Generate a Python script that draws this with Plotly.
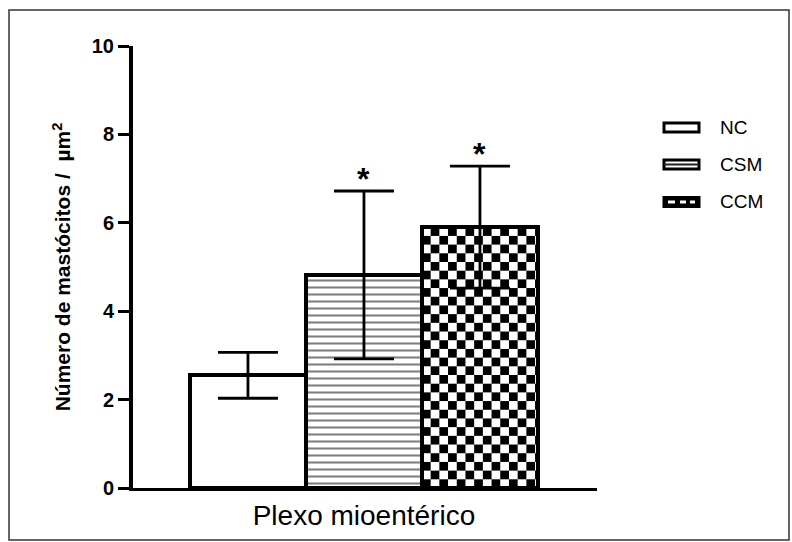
import base64
import plotly.graph_objects as go

# ---------------- data ----------------
groups = ["NC", "CSM", "CCM"]
means = [2.55, 4.82, 5.90]
sems = [0.52, 1.90, 1.38]
sig = ["", "*", "*"]
category_label = "Plexo mioentérico"
y_ticks = [0, 2, 4, 6, 8, 10]
y_title = "Número de mastócitos /  µm<sup>2</sup>"

# ---------------- layout constants ----------------
W, H = 792, 542
L, R, T, B = 133, 597, 46, 488  # plot area in px
FONT = "Liberation Sans, Arial, sans-serif"


def pxx(p):
    return (p - L) / (R - L)


def pxy(p):
    return (B - p) / (B - T)


xpos = list(range(len(groups)))

fig = go.Figure()

styles = {
    "NC": dict(color="white"),
    "CSM": dict(color="white", pattern=dict(shape="-", fgcolor="#000000", bgcolor="white",
                                            size=7, solidity=0.3)),
    "CCM": dict(color="rgba(0,0,0,0)"),
}

for i, g in enumerate(groups):
    m = dict(styles[g])
    m["line"] = dict(color="black", width=4)
    fig.add_trace(go.Bar(
        x=[xpos[i]], y=[means[i]], width=1, name=g, marker=m,
        error_y=dict(type="data", array=[sems[i]], visible=True, color="black",
                     thickness=2.8, width=30),
        showlegend=False,
    ))
    if sig[i]:
        fig.add_annotation(x=xpos[i], y=means[i] + sems[i], text=sig[i], showarrow=False,
                           yanchor="bottom", yshift=-8,
                           font=dict(family=FONT, size=32, color="black", weight="bold"))

# checkerboard fill for CCM bar (image positioned from the data)
sq = 8.7
svg = ("<svg xmlns='http://www.w3.org/2000/svg' width='116' height='261' viewBox='0 0 116 261' "
       "preserveAspectRatio='none'><defs><pattern id='c' width='{a}' height='{a}' "
       "patternUnits='userSpaceOnUse'><rect width='{a}' height='{a}' fill='white'/>"
       "<rect x='{s}' width='{s}' height='{s}' fill='black'/>"
       "<rect y='{s}' width='{s}' height='{s}' fill='black'/></pattern></defs>"
       "<rect width='116' height='261' fill='url(#c)'/></svg>").format(a=2 * sq, s=sq)
svg_uri = "data:image/svg+xml;base64," + base64.b64encode(svg.encode()).decode()
ci = groups.index("CCM")
fig.add_layout_image(dict(source=svg_uri, xref="x", yref="y", x=xpos[ci] - 0.5, y=means[ci],
                          sizex=1, sizey=means[ci], xanchor="left", yanchor="top",
                          sizing="stretch", layer="below"))

# ---------------- manual legend ----------------
leg_centers = [127.5, 164.5, 202]
shapes = []
for g, cy in zip(groups, leg_centers):
    x0, x1 = pxx(664), pxx(699)
    y0, y1 = pxy(cy + 4.5), pxy(cy - 4.5)
    if g == "NC":
        shapes.append(dict(type="rect", xref="paper", yref="paper", x0=x0, x1=x1, y0=y0, y1=y1,
                           line=dict(color="black", width=3), fillcolor="white"))
    elif g == "CSM":
        shapes.append(dict(type="rect", xref="paper", yref="paper", x0=x0, x1=x1, y0=y0, y1=y1,
                           line=dict(color="black", width=3), fillcolor="white"))
        shapes.append(dict(type="line", xref="paper", yref="paper", x0=x0, x1=x1,
                           y0=pxy(cy), y1=pxy(cy), line=dict(color="#222", width=2)))
    else:
        shapes.append(dict(type="rect", xref="paper", yref="paper", x0=x0, x1=x1, y0=y0, y1=y1,
                           line=dict(color="black", width=3), fillcolor="black"))
        for a, b in [(668, 675), (680, 686), (690, 695)]:
            shapes.append(dict(type="rect", xref="paper", yref="paper", x0=pxx(a), x1=pxx(b),
                               y0=pxy(cy + 1.5), y1=pxy(cy - 1.5),
                               line=dict(width=0), fillcolor="white"))
    fig.add_annotation(xref="paper", yref="paper", x=pxx(718), y=pxy(cy), text=g,
                       showarrow=False, xanchor="left", yanchor="middle",
                       font=dict(family=FONT, size=19, color="black"))

# outer frame
shapes.append(dict(type="rect", xref="paper", yref="paper", x0=pxx(9), x1=pxx(789),
                   y0=pxy(540), y1=pxy(10), line=dict(color="#333", width=1.5), layer="below"))

fig.update_layout(
    width=W, height=H,
    margin=dict(l=L, r=W - R, t=T, b=H - B, pad=0),
    plot_bgcolor="white", paper_bgcolor="white",
    shapes=shapes, bargap=0,
    font=dict(family=FONT, color="black"),
)

fig.update_xaxes(range=[-0.991, 3.009], showgrid=False, zeroline=False,
                 showline=True, linecolor="black", linewidth=3,
                 tickvals=[xpos[1]], ticktext=[category_label], ticks="",
                 tickfont=dict(family=FONT, size=28, color="black"))
fig.update_yaxes(range=[0, 10], showgrid=False, zeroline=False,
                 showline=True, linecolor="black", linewidth=4,
                 tickvals=y_ticks, ticks="outside", ticklen=11, tickwidth=3, tickcolor="black",
                 tickfont=dict(family=FONT, size=20, color="black", weight="bold"),
                 title=dict(text=y_title, standoff=16,
                            font=dict(family=FONT, size=21, color="black", weight="bold")))

fig.write_html("out.html")
